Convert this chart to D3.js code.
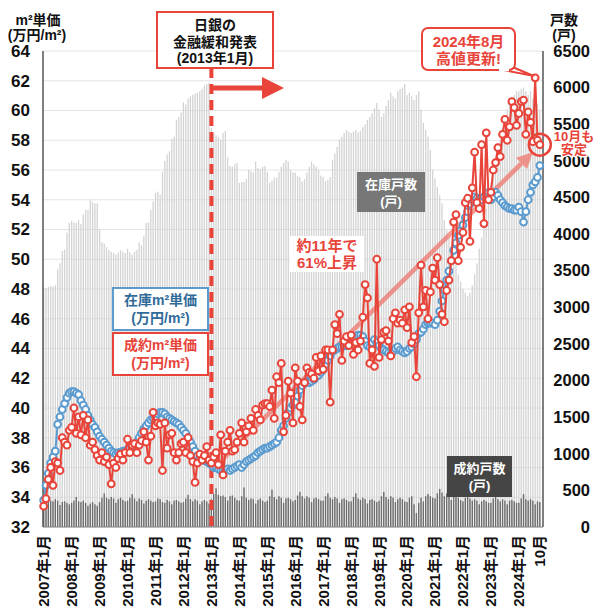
<!DOCTYPE html>
<html><head><meta charset="utf-8">
<script src="https://cdn.jsdelivr.net/npm/d3@7"></script>
<style>
body{margin:0;background:#fff}
svg{display:block}
text{font-family:"Liberation Sans","Noto Sans CJK JP",sans-serif;font-weight:bold}
</style>
</head><body>
<svg id="c" width="600" height="614"></svg>
<script>
// ---------------- DATA ----------------
const monthCount = 214; // 2007/1 .. 2024/10
const xTickLabels = ["2007年1月","2008年1月","2009年1月","2010年1月","2011年1月","2012年1月","2013年1月","2014年1月","2015年1月","2016年1月","2017年1月","2018年1月","2019年1月","2020年1月","2021年1月","2022年1月","2023年1月","2024年1月","10月"];
const xTickIndex = [0,12,24,36,48,60,72,84,96,108,120,132,144,156,168,180,192,204,213];
const leftTicks = [32,34,36,38,40,42,44,46,48,50,52,54,56,58,60,62,64];
const rightTicks = [0,500,1000,1500,2000,2500,3000,3500,4000,4500,5000,5500,6000,6500];

// 在庫戸数 (戸)
const inventoryUnits = [
3270,3260,3280,3290,3280,3300,3520,3600,3770,3790,4020,4150,
4180,4160,4150,4190,4140,4270,4330,4330,4470,4440,4420,4420,
4060,3890,3870,3820,3780,3760,3740,3720,3750,3780,3760,3740,
3800,3750,3720,3760,3780,3890,3850,3980,4150,4160,4330,4450,
4560,4580,4540,4850,5000,5090,5130,5300,5330,5560,5600,5660,
5800,5770,5850,5880,5900,5920,5930,5950,5980,6030,6050,6070,
5450,5380,5350,5330,5290,5380,5410,5050,4930,4920,4950,4970,
4700,4710,4710,4750,4880,4860,4840,4990,4900,4880,4920,4930,
4850,4700,4730,4770,4770,4850,4920,4970,5010,4990,4880,4840,
4840,4790,4780,4720,4750,4840,4920,4990,4950,4920,4880,4800,
4780,4720,4740,4780,5010,5100,5190,5290,5330,5380,5420,5400,
5380,5400,5420,5390,5410,5460,5500,5560,5600,5650,5720,5790,
5700,5600,5650,5750,5830,5930,5880,5850,5950,5980,6000,6050,
5900,5930,5880,5830,5900,5950,5700,5520,5420,5330,5150,4880,
4760,4640,4530,4420,4190,4050,3960,3850,3740,3600,3450,3350,
3250,3200,3150,3200,3300,3450,3600,3800,3950,4150,4350,4550,
4700,4850,5000,5150,5300,5450,5550,5700,5800,5850,5900,5950,
5950,5980,6000,5950,5900,5950,5850,5800,5780,5700];

// 成約戸数 (戸)
const contractUnits = [
370,390,420,360,350,380,360,300,340,350,330,310,
330,360,410,350,340,360,330,290,320,340,310,290,
340,400,460,400,380,410,390,330,380,400,370,350,
360,400,450,390,350,390,370,320,360,380,360,340,
350,390,380,340,330,370,350,310,360,370,350,330,
340,390,440,380,350,380,360,310,350,370,350,320,
380,450,530,440,420,430,410,360,420,430,400,370,
360,420,540,400,370,390,380,320,370,390,360,340,
360,420,510,410,380,420,400,330,390,400,380,350,
370,430,480,420,390,420,400,340,390,400,380,360,
360,420,460,400,380,410,390,330,380,390,370,350,
350,410,460,390,370,400,380,320,370,380,360,340,
360,420,480,410,380,420,400,340,380,400,380,350,
340,400,420,310,190,330,400,350,420,450,420,400,
390,460,520,470,420,460,430,370,410,430,400,370,
350,400,460,390,360,380,360,310,350,370,350,330,
330,390,440,380,350,380,360,310,360,370,350,330,
330,390,450,380,360,380,360,310,350,340];

// 在庫m²単価 (万円/m²)
const listingPrice = [
33.8,34.8,35.6,36.3,36.7,37.1,38.9,39.4,39.9,40.3,40.7,41.0,
41.1,41.1,41.0,40.9,40.5,40.2,39.9,39.5,39.2,38.9,38.7,38.4,
38.1,37.9,37.7,37.5,37.3,37.1,37.0,36.9,37.0,37.0,37.1,37.1,
37.2,37.3,37.4,37.5,37.7,38.0,38.3,38.6,38.8,39.0,39.2,39.3,
39.4,39.6,39.7,39.7,39.6,39.4,39.3,39.2,39.1,39.0,38.9,38.7,
38.5,38.3,38.0,37.7,37.4,37.1,36.8,36.6,36.5,36.5,36.4,36.3,
36.2,36.0,36.0,35.9,35.8,35.8,35.8,35.9,35.8,35.9,36.0,36.1,
36.2,36.0,36.2,36.4,36.5,36.6,36.7,36.8,37.0,37.1,37.2,37.3,
37.3,37.4,37.5,37.6,37.7,38.0,38.5,38.8,39.3,39.7,40.0,40.2,
40.4,40.8,41.2,41.5,41.7,41.8,41.7,41.8,41.9,42.1,42.2,42.4,
42.6,42.9,43.2,43.5,43.8,43.9,44.0,44.1,44.1,44.2,44.2,44.3,
44.5,44.7,44.8,44.9,44.9,44.8,44.5,44.2,44.1,44.4,44.6,44.4,
44.2,44.0,43.9,43.8,43.7,43.6,43.8,44.0,44.1,43.9,43.8,43.7,
43.8,44.0,44.1,44.3,44.6,45.0,45.1,45.3,45.6,45.7,45.7,45.7,
45.6,45.9,46.5,47.2,47.9,48.6,49.2,49.9,50.6,51.1,51.6,51.9,
52.3,52.8,53.2,53.7,54.0,54.2,54.1,54.0,54.0,54.2,54.4,54.5,
54.0,54.2,54.5,54.3,54.0,53.8,53.6,53.5,53.4,53.4,53.3,53.3,
53.5,53.2,52.5,53.2,54.0,54.5,55.0,55.2,55.5,56.3];

// 成約m²単価 (万円/m²)
const contractPrice = [
33.4,33.9,35.2,36.0,34.8,36.4,36.3,35.8,38.0,37.7,37.5,38.5,
38.7,40.0,38.3,39.4,38.2,39.5,38.0,39.2,37.5,37.7,37.2,36.8,
36.5,37.0,36.4,36.7,36.2,34.9,36.3,36.0,36.6,36.9,36.5,37.0,
37.9,37.0,37.5,37.6,37.0,37.5,37.8,38.4,37.7,36.5,38.1,39.7,
38.8,39.0,38.9,35.8,39.0,37.3,38.2,38.3,37.0,36.5,37.0,37.6,
37.7,37.0,38.0,36.8,36.4,35.0,36.3,36.9,36.5,36.8,37.4,36.5,
36.3,36.7,37.0,36.2,38.2,35.5,37.1,37.7,38.5,37.1,37.2,37.7,
38.3,39.0,37.7,38.4,38.8,39.3,38.5,39.9,39.5,39.2,40.2,40.3,
40.3,40.1,41.2,39.3,42.1,41.7,43.0,38.4,39.5,41.8,41.0,39.0,
42.7,41.8,40.1,39.2,41.7,42.7,42.4,42.3,42.0,43.4,42.5,43.5,
42.6,43.9,43.9,40.4,43.9,45.6,45.0,46.3,43.2,44.5,44.8,44.2,
44.9,43.6,44.4,43.9,44.5,46.1,48.3,47.4,43.0,43.9,42.8,50.0,
43.4,44.6,45.1,45.2,44.5,43.5,46.0,46.4,45.7,45.9,45.7,46.6,
45.4,46.8,44.4,44.8,42.1,46.4,49.6,46.8,47.9,46.0,47.8,49.4,
48.6,50.1,48.3,46.3,45.8,47.9,48.6,49.9,52.5,53.0,49.9,50.8,
51.8,53.8,54.1,51.2,54.8,57.2,53.8,53.4,57.7,52.4,58.5,54.0,
54.5,56.0,56.5,57.5,56.9,58.4,59.4,58.0,58.9,60.6,60.2,59.0,
59.8,60.6,60.7,58.4,59.9,59.2,57.9,62.2,58.0,57.7];

// ---------------- CHART ----------------
const RED = "#e8443a", BLUE = "#5b9bcf";
const FONT = "'Liberation Sans','Noto Sans CJK JP',sans-serif";
const svg = d3.select("#c");
const L = 42.5, R = 541, T = 51, B = 527;
const idx = d3.range(monthCount);
const x = d3.scaleBand().domain(idx).range([L, R]).padding(0);
const bw = x.bandwidth();
const cx = i => x(i) + bw / 2;
const yL = d3.scaleLinear().domain([32, 64]).range([B, T]);
const yR = d3.scaleLinear().domain([0, 6500]).range([B, T]);

// grid
svg.append("g").selectAll("line").data(leftTicks).join("line")
  .attr("x1", 43).attr("x2", 543)
  .attr("y1", d => yL(d)).attr("y2", d => yL(d))
  .attr("stroke", "#e4e4e4").attr("stroke-width", 1);

// inventory bars
svg.append("g").selectAll("rect").data(idx).join("rect")
  .attr("x", i => cx(i) - 0.65).attr("width", 1.3)
  .attr("y", i => yR(inventoryUnits[i]))
  .attr("height", i => B - yR(inventoryUnits[i]))
  .attr("fill", "#d3d3d3");
// contract bars
svg.append("g").selectAll("rect").data(idx).join("rect")
  .attr("x", i => cx(i) - 0.7).attr("width", 1.4)
  .attr("y", i => yR(contractUnits[i]))
  .attr("height", i => B - yR(contractUnits[i]))
  .attr("fill", "#6c6c6c");

// axes
const axL = svg.append("g").attr("transform", `translate(43,0)`)
  .call(d3.axisLeft(yL).tickValues(leftTicks).tickSize(0).tickPadding(13).tickFormat(d3.format("d")));
axL.select(".domain").remove();
axL.selectAll("text").attr("font-size", 17).attr("fill", "#111").attr("font-family", FONT);

const axR = svg.append("g").attr("transform", `translate(543,0)`)
  .call(d3.axisRight(yR).tickValues(rightTicks).tickSize(0).tickFormat(d3.format("d")));
axR.select(".domain").remove();
axR.selectAll("text").attr("font-size", 16.5).attr("fill", "#111")
  .attr("text-anchor", "end").attr("x", 47).attr("font-family", FONT);

const axB = svg.append("g").attr("transform", `translate(0,${B})`)
  .call(d3.axisBottom(x).tickValues(xTickIndex).tickSize(0)
    .tickFormat(i => xTickLabels[xTickIndex.indexOf(i)]));
axB.select(".domain").remove();
axB.selectAll("text").attr("font-size", 15).attr("fill", "#111")
  .attr("transform", "rotate(-90)").attr("text-anchor", "end")
  .attr("x", -8).attr("y", 0).attr("dy", "0.36em").attr("font-family", FONT);

svg.append("line").attr("x1", 43).attr("x2", 43).attr("y1", T).attr("y2", B)
  .attr("stroke", "#555").attr("stroke-width", 1.5);
svg.append("line").attr("x1", 543).attr("x2", 543).attr("y1", T).attr("y2", B)
  .attr("stroke", "#555").attr("stroke-width", 1.5);
svg.append("line").attr("x1", 43).attr("x2", 543).attr("y1", B).attr("y2", B)
  .attr("stroke", "#888").attr("stroke-width", 1);

// axis titles
function label(txt, xx, yy, size, fill, anchor) {
  return svg.append("text").attr("x", xx).attr("y", yy).attr("font-size", size)
    .attr("fill", fill || "#111").attr("text-anchor", anchor || "middle").text(txt);
}
label("m²単価", 38, 25, 14);
label("(万円/m²)", 37, 40, 14);
label("戸数", 564, 25, 14);
label("(戸)", 564, 40, 14);

// gray boxes (unit labels)
svg.append("rect").attr("x", 357).attr("y", 172).attr("width", 68).attr("height", 40).attr("fill", "#777");
label("在庫戸数", 391, 189, 13, "#fff");
label("(戸)", 391, 206, 13, "#fff");
svg.append("rect").attr("x", 447).attr("y", 456).attr("width", 65).attr("height", 41).attr("fill", "#454545");
label("成約戸数", 479.5, 473, 13, "#fff");
label("(戸)", 479.5, 490, 13, "#fff");

// Dashed BOJ line & arrow
const bx = cx(72);
svg.append("line").attr("x1", bx).attr("x2", bx).attr("y1", 68).attr("y2", B)
  .attr("stroke", RED).attr("stroke-width", 4).attr("stroke-dasharray", "10,6");
svg.append("line").attr("x1", bx).attr("x2", 264).attr("y1", 88).attr("y2", 88)
  .attr("stroke", RED).attr("stroke-width", 5);
svg.append("path").attr("d", "M262,77 L284,88 L262,99 Z").attr("fill", RED);
svg.append("rect").attr("x", 157).attr("y", 12).attr("width", 116).attr("height", 56)
  .attr("fill", "#fff").attr("stroke", RED).attr("stroke-width", 2);
label("日銀の", 215, 30, 14);
label("金融緩和発表", 215, 47, 14);
label("(2013年1月)", 215, 63, 14);

// translucent trend arrow
const ax0 = cx(72), ay0 = yL(35.8), ax1 = cx(210), ay1 = yL(57.2);
const ang = Math.atan2(ay1 - ay0, ax1 - ax0);
const hl = 16, hw = 8;
const bxp = ax1 - hl * Math.cos(ang), byp = ay1 - hl * Math.sin(ang);
svg.append("line").attr("x1", ax0).attr("y1", ay0).attr("x2", bxp).attr("y2", byp)
  .attr("stroke", "rgba(238,110,100,0.7)").attr("stroke-width", 4.5);
svg.append("path").attr("d",
  `M${ax1},${ay1} L${bxp + hw * Math.sin(ang)},${byp - hw * Math.cos(ang)} L${bxp - hw * Math.sin(ang)},${byp + hw * Math.cos(ang)} Z`)
  .attr("fill", "rgba(238,110,100,0.7)");

// series lines
const line = d3.line().x((d, i) => cx(i)).y(d => yL(d));
svg.append("path").datum(listingPrice).attr("d", line).attr("fill", "none")
  .attr("stroke", BLUE).attr("stroke-width", 2);
svg.append("g").selectAll("circle").data(listingPrice).join("circle")
  .attr("cx", (d, i) => cx(i)).attr("cy", d => yL(d)).attr("r", 3.4)
  .attr("fill", "#fff").attr("stroke", BLUE).attr("stroke-width", 2);
svg.append("path").datum(contractPrice).attr("d", line).attr("fill", "none")
  .attr("stroke", RED).attr("stroke-width", 2);
svg.append("g").selectAll("circle").data(contractPrice).join("circle")
  .attr("cx", (d, i) => cx(i)).attr("cy", d => yL(d)).attr("r", 3.4)
  .attr("fill", "#fff").attr("stroke", RED).attr("stroke-width", 2);

// 約11年で61%上昇
svg.append("rect").attr("x", 290).attr("y", 236).attr("width", 74).attr("height", 36).attr("fill", "#fff");
label("約11年で", 327, 251, 15, RED);
label("61%上昇", 327, 268, 15, RED);

// legend boxes
svg.append("rect").attr("x", 113).attr("y", 288).attr("width", 95).attr("height", 42)
  .attr("fill", "#fff").attr("stroke", BLUE).attr("stroke-width", 2);
label("在庫m²単価", 160.5, 305, 14, "#2f6a98");
label("(万円/m²)", 160.5, 323, 14, "#2f6a98");
svg.append("rect").attr("x", 113).attr("y", 333).attr("width", 95).attr("height", 42)
  .attr("fill", "#fff").attr("stroke", RED).attr("stroke-width", 2);
label("成約m²単価", 160.5, 350, 14, RED);
label("(万円/m²)", 160.5, 368, 14, RED);

// 2024/8 callout
const px = cx(211), py = yL(contractPrice[211]);
svg.append("path").attr("d", `M498,69 L${px - 2},${py - 2} L510,66`)
  .attr("fill", "#fff").attr("stroke", RED).attr("stroke-width", 2).attr("stroke-linejoin", "round");
svg.append("rect").attr("x", 422).attr("y", 28).attr("width", 93).attr("height", 42).attr("rx", 6)
  .attr("fill", "#fff").attr("stroke", RED).attr("stroke-width", 2);
svg.append("line").attr("x1", 499).attr("x2", 509).attr("y1", 70).attr("y2", 70)
  .attr("stroke", "#fff").attr("stroke-width", 2.5);
label("2024年8月", 468.5, 47, 15, RED);
label("高値更新!", 468.5, 64, 15, RED);

// 10月 highlight
svg.append("circle").attr("cx", cx(213)).attr("cy", yL(contractPrice[213])).attr("r", 11)
  .attr("fill", "none").attr("stroke", RED).attr("stroke-width", 2.5);
label("10月も", 574, 141, 13, RED)
  .attr("stroke", "#fff").attr("stroke-width", 3).attr("paint-order", "stroke");
label("安定", 574, 154, 13, RED)
  .attr("stroke", "#fff").attr("stroke-width", 3).attr("paint-order", "stroke");
</script>
</body></html>
